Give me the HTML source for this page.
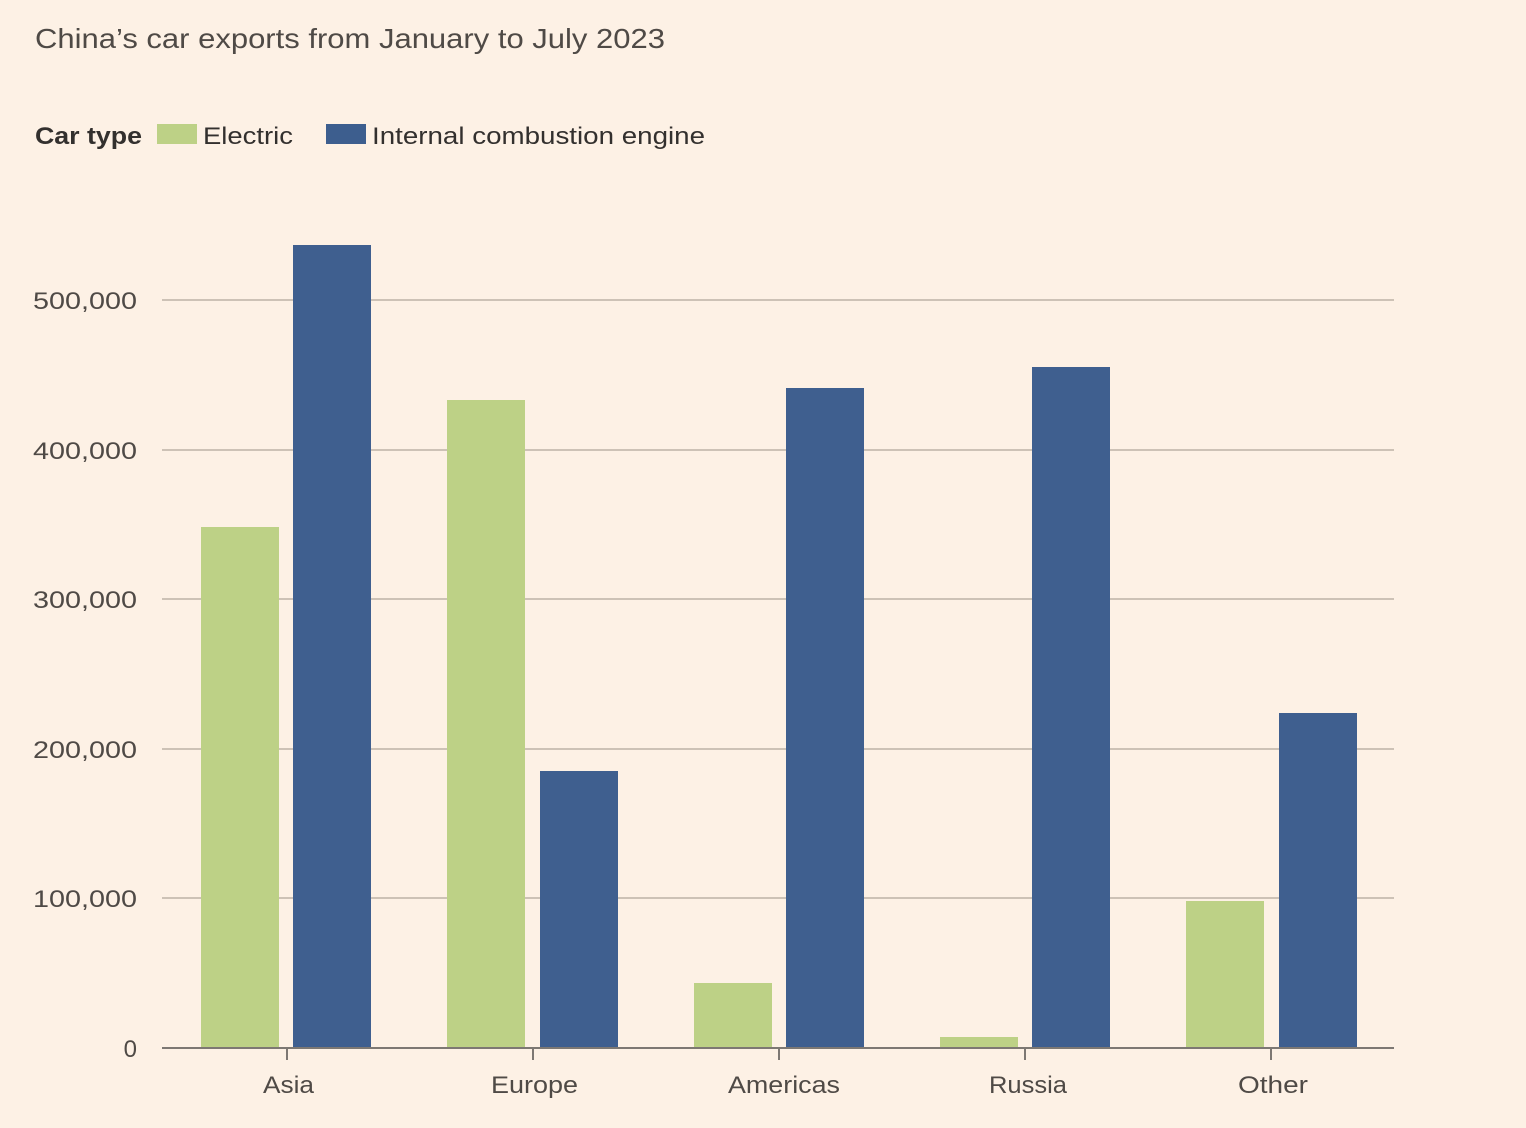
<!DOCTYPE html>
<html><head><meta charset="utf-8"><style>
html,body{margin:0;padding:0;background:#fdf1e5;}
body{width:1526px;height:1128px;overflow:hidden;font-family:"Liberation Sans",sans-serif;}
</style></head><body>
<svg width="1526" height="1128" xmlns="http://www.w3.org/2000/svg" style="display:block">
<rect width="1526" height="1128" fill="#fdf1e5"/>
<text x="35" y="48" font-size="28" fill="#4f4a46" textLength="630" lengthAdjust="spacingAndGlyphs">China’s car exports from January to July 2023</text>
<text x="35" y="144" font-size="24" font-weight="bold" fill="#33302e" textLength="107" lengthAdjust="spacingAndGlyphs">Car type</text>
<rect x="157" y="124" width="40" height="20" fill="#bdd186"/>
<text x="203" y="144" font-size="24" fill="#33302e" textLength="90" lengthAdjust="spacingAndGlyphs">Electric</text>
<rect x="326" y="124" width="40" height="20" fill="#3d5e8e"/>
<text x="372" y="144" font-size="24" fill="#33302e" textLength="333" lengthAdjust="spacingAndGlyphs">Internal combustion engine</text>
<g stroke="#cdc2b6" stroke-width="2">
<line x1="162" x2="1394" y1="300" y2="300"/>
<line x1="162" x2="1394" y1="450" y2="450"/>
<line x1="162" x2="1394" y1="599" y2="599"/>
<line x1="162" x2="1394" y1="749" y2="749"/>
<line x1="162" x2="1394" y1="898" y2="898"/>
</g>
<g font-size="24" fill="#4f4a46">
<text x="33" y="309" textLength="104" lengthAdjust="spacingAndGlyphs">500,000</text>
<text x="33" y="459" textLength="104" lengthAdjust="spacingAndGlyphs">400,000</text>
<text x="33" y="608" textLength="104" lengthAdjust="spacingAndGlyphs">300,000</text>
<text x="33" y="758" textLength="104" lengthAdjust="spacingAndGlyphs">200,000</text>
<text x="33" y="907" textLength="104" lengthAdjust="spacingAndGlyphs">100,000</text>
<text x="137" y="1057" text-anchor="end">0</text>
</g>
<g fill="#bdd186">
<rect x="201" y="527" width="78" height="521"/>
<rect x="447" y="400" width="78" height="648"/>
<rect x="694" y="983" width="78" height="65"/>
<rect x="940" y="1037" width="78" height="11"/>
<rect x="1186" y="901" width="78" height="147"/>
</g>
<g fill="#3f5f8f">
<rect x="293" y="245" width="78" height="803"/>
<rect x="540" y="771" width="78" height="277"/>
<rect x="786" y="388" width="78" height="660"/>
<rect x="1032" y="367" width="78" height="681"/>
<rect x="1279" y="713" width="78" height="335"/>
</g>
<line x1="162" x2="1394" y1="1048" y2="1048" stroke="#7d7873" stroke-width="2"/>
<g stroke="#7d7873" stroke-width="2">
<line x1="287" x2="287" y1="1048" y2="1060"/>
<line x1="533" x2="533" y1="1048" y2="1060"/>
<line x1="779" x2="779" y1="1048" y2="1060"/>
<line x1="1025" x2="1025" y1="1048" y2="1060"/>
<line x1="1271" x2="1271" y1="1048" y2="1060"/>
</g>
<g font-size="24" fill="#4f4a46">
<text x="263" y="1093" textLength="51" lengthAdjust="spacingAndGlyphs">Asia</text>
<text x="491" y="1093" textLength="87" lengthAdjust="spacingAndGlyphs">Europe</text>
<text x="728" y="1093" textLength="112" lengthAdjust="spacingAndGlyphs">Americas</text>
<text x="989" y="1093" textLength="78" lengthAdjust="spacingAndGlyphs">Russia</text>
<text x="1238" y="1093" textLength="70" lengthAdjust="spacingAndGlyphs">Other</text>
</g>
</svg>
</body></html>
